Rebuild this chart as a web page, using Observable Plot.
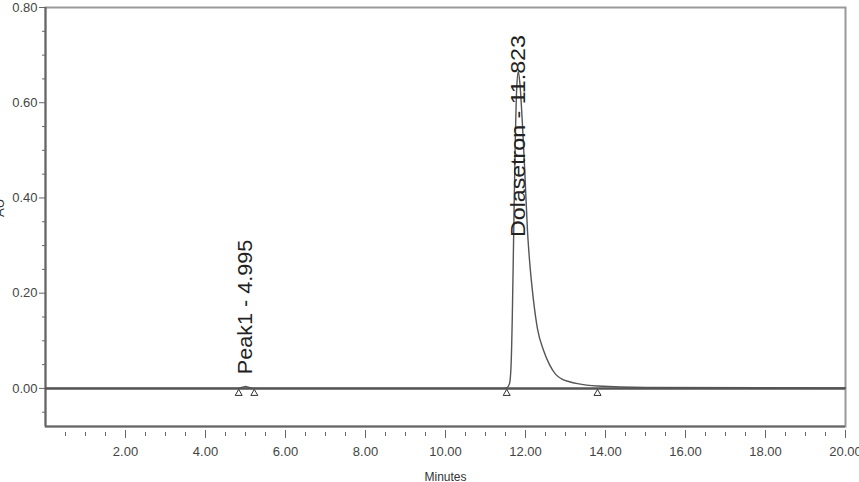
<!DOCTYPE html>
<html>
<head>
<meta charset="utf-8">
<script src="https://cdn.jsdelivr.net/npm/d3@7"></script>
<script src="https://cdn.jsdelivr.net/npm/@observablehq/plot@0.6"></script>
<style>
  html, body { margin: 0; padding: 0; background: #fff; }
  #chart svg { display: block; }
</style>
</head>
<body>
<div id="chart"></div>
<script>
// Chromatogram trace (minutes, AU)
const traceTime = [0, 4.80, 4.90, 5.00, 5.10, 5.22, 11.45, 11.53, 11.60, 11.64, 11.67, 11.70, 11.74, 11.78, 11.82, 11.86, 11.92, 11.98, 12.05, 12.10, 12.20, 12.30, 12.45, 12.60, 12.75, 12.90, 13.10, 13.30, 13.80, 15.00, 20.00];
const traceAU   = [0, 0, 0.002, 0.004, 0.002, 0, 0, 0.001, 0.01, 0.05, 0.15, 0.30, 0.50, 0.63, 0.665, 0.64, 0.56, 0.46, 0.33, 0.27, 0.185, 0.125, 0.08, 0.05, 0.03, 0.02, 0.014, 0.010, 0.005, 0.002, 0.001];

// Peak labels
const peakNames = ["Peak1 - 4.995", "Dolasetron - 11.823"];
const peakTimes = [4.995, 11.823];
const peakLabelBase = [0.030, 0.318];

// Integration start/end markers
const markerTimes = [4.83, 5.22, 11.53, 13.80];

// Axis ticks
const xMajor = [2, 4, 6, 8, 10, 12, 14, 16, 18, 20];
const xMinor = [0.5, 1, 1.5, 2.5, 3, 3.5, 4.5, 5, 5.5, 6.5, 7, 7.5, 8.5, 9, 9.5, 10.5, 11, 11.5, 12.5, 13, 13.5, 14.5, 15, 15.5, 16.5, 17, 17.5, 18.5, 19, 19.5];
const yMajor = [0, 0.2, 0.4, 0.6, 0.8];
const yMinor = [-0.05, 0.05, 0.1, 0.15, 0.25, 0.3, 0.35, 0.45, 0.5, 0.55, 0.65, 0.7, 0.75];

const trace = traceTime.map((t, i) => ({t, v: traceAU[i]}));
const peaks = peakNames.map((n, i) => ({name: n, t: peakTimes[i], y: peakLabelBase[i]}));
const markers = markerTimes.map(t => ({t, v: 0}));

const font = "'Liberation Sans', Arial, sans-serif";

const chart = Plot.plot({
  width: 859,
  height: 482,
  marginLeft: 45,
  marginRight: 14,
  marginTop: 7,
  marginBottom: 56,
  style: {fontFamily: font, fontSize: "12px", color: "#444", background: "#fff"},
  x: {domain: [0, 20], label: null},
  y: {domain: [-0.08, 0.80], label: null},
  marks: [
    Plot.frame({stroke: "#999", strokeWidth: 2}),
    Plot.ruleX([0], {stroke: "#666", strokeWidth: 2}),
    Plot.ruleY([-0.08], {stroke: "#666", strokeWidth: 2}),
    Plot.ruleY([0], {stroke: "#555", strokeWidth: 2.5}),
    Plot.line(trace, {x: "t", y: "v", stroke: "#555", strokeWidth: 1.4, curve: "monotone-x"}),
    Plot.dot(markers, {x: "t", y: "v", symbol: "triangle", r: 2.6, stroke: "#333", strokeWidth: 1, fill: "#fff", dy: 5}),
    Plot.text(peaks.slice(0, 1), {x: "t", y: "y", text: "name", rotate: -90, textAnchor: "start", lineAnchor: "middle", fontSize: 20, fill: "#222", fontFamily: font}),
    Plot.text(peaks.slice(1), {x: "t", y: "y", text: "name", rotate: -90, textAnchor: "start", lineAnchor: "middle", fontSize: 20, fill: "#222", fontFamily: font}),
    // y axis
    Plot.axisY({ticks: yMajor, tickFormat: d3.format(".2f"), tickSize: 6, tickPadding: 2, fontSize: 13, fill: "#444", stroke: "#666", label: null}),
    Plot.axisY({ticks: yMinor, tickSize: 3, text: null, stroke: "#666", label: null}),
    // x axis
    Plot.axisX({ticks: xMajor, tickFormat: d3.format(".2f"), tickSize: 8, tickPadding: 8, dy: 4, fontSize: 13, fill: "#444", stroke: "#666", label: null}),
    Plot.axisX({ticks: xMinor, tickSize: 4, text: null, dy: 6, stroke: "#666", label: null}),
    Plot.text(["Minutes"], {frameAnchor: "bottom", dy: 54, fontSize: 12, fill: "#333", fontFamily: font}),
    Plot.text(["AU"], {frameAnchor: "left", dx: -46, rotate: -90, fontSize: 13, fill: "#333", fontFamily: font})
  ]
});
document.getElementById("chart").append(chart);

// Stretch the peak labels along their reading direction, as in the instrument printout
const stretch = {"Peak1 - 4.995": 1.08, "Dolasetron - 11.823": 1.16};
d3.select(chart).selectAll("text").each(function() {
  const s = stretch[this.textContent];
  if (s) {
    const tr = this.getAttribute("transform") || "";
    this.setAttribute("transform", tr + ` scale(${s},1)`);
  }
});
</script>
</body>
</html>
